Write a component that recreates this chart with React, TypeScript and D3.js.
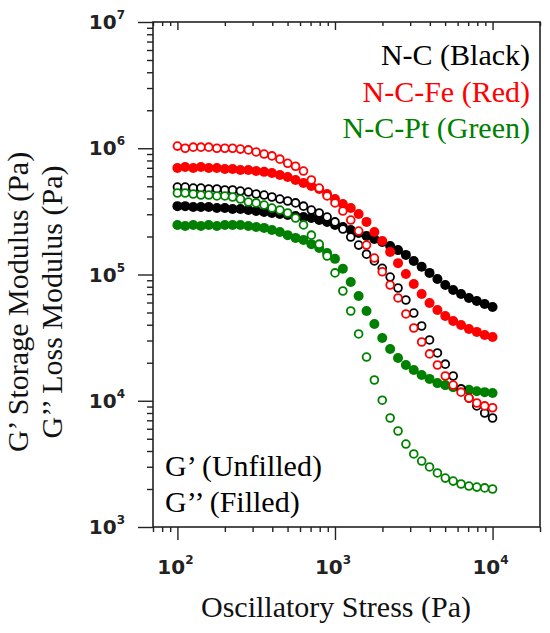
import { useEffect, useRef } from "react";
import * as d3 from "d3";

// oscillatory stress (Pa), shared by every series
const stress = [
  100, 112, 126, 141, 158, 178, 200, 224, 251, 282, 316, 355, 398, 447, 501, 562, 631, 708, 794, 891,
  1000, 1122, 1259, 1413, 1585, 1778, 1995, 2239, 2512, 2818, 3162, 3548, 3981, 4467, 5012, 5623, 6310,
  7079, 7943, 8913, 10000,
];

// G' (storage) -> open markers
const ncStorage = [
  4.93e5, 4.93e5, 4.84e5, 4.84e5, 4.76e5, 4.76e5, 4.67e5, 4.67e5, 4.58e5, 4.5e5, 4.34e5, 4.26e5, 4.11e5,
  3.96e5, 3.82e5, 3.69e5, 3.48e5, 3.24e5, 3.07e5, 2.85e5, 2.61e5, 2.29e5, 1.98e5, 1.71e5, 1.45e5, 1.28e5,
  1.12e5, 9.55e4, 7.82e4, 6.28e4, 4.95e4, 3.91e4, 3.03e4, 2.39e4, 1.95e4, 1.57e4, 1.24e4, 1.05e4, 9.1e3,
  8.0e3, 7.3e3,
];
const feStorage = [
  1.04e6, 1.0e6, 1.02e6, 1.02e6, 1.02e6, 1.0e6, 1.0e6, 1.0e6, 9.85e5, 9.7e5, 9.35e5, 9.0e5, 8.7e5, 8.2e5,
  7.6e5, 7.2e5, 6.6e5, 5.61e5, 4.84e5, 4.19e5, 3.69e5, 3.18e5, 2.7e5, 2.21e5, 1.71e5, 1.35e5, 1.05e5,
  8.26e4, 6.52e4, 4.87e4, 3.77e4, 2.92e4, 2.35e4, 1.92e4, 1.57e4, 1.33e4, 1.17e4, 1.05e4, 9.6e3, 9.1e3,
  8.8e3,
];
const ptStorage = [
  4.42e5, 4.42e5, 4.34e5, 4.26e5, 4.26e5, 4.19e5, 4.19e5, 4.11e5, 3.96e5, 3.75e5, 3.69e5, 3.55e5, 3.36e5,
  3.24e5, 3.07e5, 2.8e5, 2.47e5, 2.05e5, 1.74e5, 1.4e5, 1.03e5, 7.4e4, 5.14e4, 3.38e4, 2.22e4, 1.46e4,
  1.01e4, 7.3e3, 5.76e3, 4.54e3, 3.79e3, 3.33e3, 2.99e3, 2.68e3, 2.44e3, 2.31e3, 2.19e3, 2.11e3, 2.07e3,
  2.04e3, 2.0e3,
];

// G'' (loss) -> filled markers
const ncLoss = [
  3.48e5, 3.48e5, 3.43e5, 3.43e5, 3.43e5, 3.36e5, 3.36e5, 3.3e5, 3.3e5, 3.24e5, 3.18e5, 3.13e5, 3.07e5,
  3.01e5, 2.96e5, 2.9e5, 2.85e5, 2.8e5, 2.7e5, 2.61e5, 2.47e5, 2.38e5, 2.25e5, 2.13e5, 2.02e5, 1.91e5,
  1.81e5, 1.68e5, 1.56e5, 1.43e5, 1.28e5, 1.15e5, 1.03e5, 9.21e4, 8.26e4, 7.54e4, 7.01e4, 6.52e4, 6.17e4,
  5.84e4, 5.53e4,
];
const feLoss = [
  6.98e5, 7.1e5, 6.98e5, 7.1e5, 6.98e5, 6.98e5, 6.85e5, 6.85e5, 6.73e5, 6.73e5, 6.6e5, 6.5e5, 6.37e5,
  6.14e5, 5.92e5, 5.61e5, 5.31e5, 5.02e5, 4.75e5, 4.34e5, 3.96e5, 3.62e5, 3.36e5, 3.01e5, 2.61e5, 2.17e5,
  1.84e5, 1.51e5, 1.23e5, 1.01e5, 8.41e4, 7.01e4, 5.95e4, 5.23e4, 4.69e4, 4.28e4, 3.98e4, 3.7e4, 3.51e4,
  3.32e4, 3.2e4,
];
const ptLoss = [
  2.47e5, 2.42e5, 2.47e5, 2.42e5, 2.47e5, 2.42e5, 2.47e5, 2.47e5, 2.47e5, 2.42e5, 2.38e5, 2.34e5, 2.25e5,
  2.17e5, 2.05e5, 1.95e5, 1.88e5, 1.74e5, 1.62e5, 1.48e5, 1.33e5, 1.11e5, 8.72e4, 6.76e4, 5.14e4, 4.05e4,
  3.14e4, 2.57e4, 2.18e4, 1.92e4, 1.75e4, 1.6e4, 1.49e4, 1.38e4, 1.33e4, 1.28e4, 1.24e4, 1.22e4, 1.19e4,
  1.17e4, 1.15e4,
];

const BLACK = "#000000";
const RED = "#ff0000";
const GREEN = "#008000";

const series = [
  { values: ncLoss, color: BLACK, filled: true },
  { values: feLoss, color: RED, filled: true },
  { values: ptLoss, color: GREEN, filled: true },
  { values: ncStorage, color: BLACK, filled: false },
  { values: feStorage, color: RED, filled: false },
  { values: ptStorage, color: GREEN, filled: false },
];

const legendLines = [
  { label: "N-C (Black)", color: BLACK },
  { label: "N-C-Fe (Red)", color: RED },
  { label: "N-C-Pt (Green)", color: GREEN },
];
const markerNotes = ["G\u2019 (Unfilled)", "G\u2019\u2019 (Filled)"];
const yTitles = ["G\u2019 Storage Modulus (Pa)", "G\u2019\u2019 Loss Modulus (Pa)"];
const xTitle = "Oscillatory Stress (Pa)";
const yMajor = [1e3, 1e4, 1e5, 1e6, 1e7];
const xMajor = [1e2, 1e3, 1e4];

const SERIF = "'Liberation Serif', 'Times New Roman', serif";
const TICKFONT = "'DejaVu Sans', Arial, sans-serif";

const App = () => {
  const svgRef = useRef<SVGSVGElement | null>(null);
  const width = 550;
  const height = 633;

  useEffect(() => {
    if (!svgRef.current) return;

    const margin = { top: 22, right: 10, bottom: 106, left: 153 };
    const svg = d3.select(svgRef.current);
    svg.selectAll("*").remove();

    const x = d3
      .scaleLog()
      .domain([70, 20000])
      .range([margin.left, width - margin.right]);

    const y = d3
      .scaleLog()
      .domain([1e3, 1e7])
      .range([height - margin.bottom, margin.top]);

    const yMinor = y.ticks().filter((v) => !yMajor.some((m) => Math.abs(m - v) < 1e-6 * m));
    const xMinor = x.ticks().filter((v) => !xMajor.some((m) => Math.abs(m - v) < 1e-6 * m));

    const styleAxis = (g: d3.Selection<SVGGElement, unknown, null, undefined>) => {
      g.select(".domain").remove();
      g.selectAll("text").remove();
      g.selectAll("line").attr("stroke", "#222").attr("stroke-width", 1.4);
    };

    // left: outward ticks
    svg
      .append("g")
      .attr("transform", `translate(${margin.left},0)`)
      .call(d3.axisLeft(y).tickValues(yMajor).tickSize(15))
      .call(styleAxis);
    svg
      .append("g")
      .attr("transform", `translate(${margin.left},0)`)
      .call(d3.axisLeft(y).tickValues(yMinor).tickSize(6))
      .call(styleAxis);

    // bottom: outward ticks
    const bottom = height - margin.bottom;
    svg
      .append("g")
      .attr("transform", `translate(0,${bottom})`)
      .call(d3.axisBottom(x).tickValues(xMajor).tickSize(13))
      .call(styleAxis);
    svg
      .append("g")
      .attr("transform", `translate(0,${bottom})`)
      .call(d3.axisBottom(x).tickValues(xMinor).tickSize(5))
      .call(styleAxis);

    // top: inward ticks
    svg
      .append("g")
      .attr("transform", `translate(0,${margin.top})`)
      .call(d3.axisBottom(x).tickValues(xMajor).tickSize(8))
      .call(styleAxis);
    svg
      .append("g")
      .attr("transform", `translate(0,${margin.top})`)
      .call(d3.axisBottom(x).tickValues(xMinor).tickSize(4))
      .call(styleAxis);

    // frame
    svg
      .append("rect")
      .attr("x", margin.left)
      .attr("y", margin.top)
      .attr("width", width - margin.right - margin.left)
      .attr("height", bottom - margin.top)
      .attr("fill", "none")
      .attr("stroke", "#222")
      .attr("stroke-width", 1.6);

    // y tick labels 10^n
    const yLab = svg
      .append("g")
      .selectAll("text")
      .data(yMajor)
      .join("text")
      .attr("x", margin.left - 28)
      .attr("y", (d) => y(d) + 7)
      .attr("text-anchor", "end")
      .attr("font-family", TICKFONT)
      .attr("font-weight", "bold")
      .attr("font-size", 20)
      .attr("fill", "#222");
    yLab.append("tspan").text("10");
    yLab
      .append("tspan")
      .attr("dy", -10)
      .attr("font-size", 12)
      .text((d) => String(Math.round(Math.log10(d))));

    // x tick labels 10^n
    const xLab = svg
      .append("g")
      .selectAll("text")
      .data(xMajor)
      .join("text")
      .attr("x", (d) => x(d) - 2)
      .attr("y", bottom + 47)
      .attr("text-anchor", "middle")
      .attr("font-family", TICKFONT)
      .attr("font-weight", "bold")
      .attr("font-size", 20)
      .attr("fill", "#222");
    xLab.append("tspan").text("10");
    xLab
      .append("tspan")
      .attr("dy", -10)
      .attr("font-size", 12)
      .text((d) => String(Math.round(Math.log10(d))));

    // markers
    series.forEach((s) => {
      svg
        .append("g")
        .selectAll("circle")
        .data(stress.map((v, i) => [v, s.values[i]] as [number, number]))
        .join("circle")
        .attr("cx", (d) => x(d[0]))
        .attr("cy", (d) => y(d[1]))
        .attr("r", s.filled ? 5 : 3.9)
        .attr("fill", s.filled ? s.color : "#ffffff")
        .attr("stroke", s.filled ? "none" : s.color)
        .attr("stroke-width", s.filled ? 0 : 1.8);
    });

    // colour legend (top right)
    svg
      .append("g")
      .selectAll("text")
      .data(legendLines)
      .join("text")
      .attr("x", width - margin.right - 10)
      .attr("y", (_, i) => 65 + i * 36.5)
      .attr("text-anchor", "end")
      .attr("font-family", SERIF)
      .attr("font-size", 30)
      .attr("fill", (d) => d.color)
      .text((d) => d.label);

    // marker note (bottom left)
    svg
      .append("g")
      .selectAll("text")
      .data(markerNotes)
      .join("text")
      .attr("x", margin.left + 12)
      .attr("y", (_, i) => 476 + i * 36)
      .attr("font-family", SERIF)
      .attr("font-size", 30)
      .attr("fill", BLACK)
      .text((d) => d);

    // axis titles
    svg
      .append("text")
      .attr("x", 336)
      .attr("y", 617)
      .attr("text-anchor", "middle")
      .attr("font-family", SERIF)
      .attr("font-size", 30)
      .attr("fill", "#111")
      .text(xTitle);

    svg
      .append("g")
      .selectAll("text")
      .data(yTitles)
      .join("text")
      .attr("transform", (_, i) => `translate(${28 + i * 34},${302}) rotate(-90)`)
      .attr("text-anchor", "middle")
      .attr("font-family", SERIF)
      .attr("font-size", 30)
      .attr("fill", "#111")
      .text((d) => d);
  }, []);

  return (
    <div>
      <style>{"body{margin:0}"}</style>
      <svg ref={svgRef} width={width} height={height} style={{ display: "block", background: "#fff" }} />
    </div>
  );
};

export default App;
